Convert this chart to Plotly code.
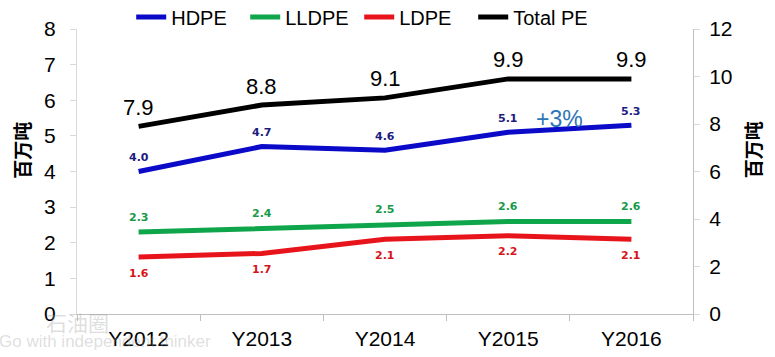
import plotly.graph_objects as go

years = ["Y2012", "Y2013", "Y2014", "Y2015", "Y2016"]
hdpe = [4.0, 4.7, 4.6, 5.1, 5.3]
lldpe = [2.3, 2.4, 2.5, 2.6, 2.6]
ldpe = [1.6, 1.7, 2.1, 2.2, 2.1]
total_pe = [7.9, 8.8, 9.1, 9.9, 9.9]
left_ticks = [0, 1, 2, 3, 4, 5, 6, 7, 8]
right_ticks = [0, 2, 4, 6, 8, 10, 12]

FONT = "Liberation Sans, Arial, sans-serif"
LBL = "DejaVu Sans, Verdana, sans-serif"

fig = go.Figure()
series = [
    ("HDPE", hdpe, "#0A0AC8", "y"),
    ("LLDPE", lldpe, "#0FA64B", "y"),
    ("LDPE", ldpe, "#E8141B", "y"),
    ("Total PE", total_pe, "#000000", "y2"),
]
for name, vals, col, ax in series:
    fig.add_trace(go.Scatter(x=years, y=vals, name=name, mode="lines", yaxis=ax,
                             line=dict(color=col, width=5)))

# data labels
label_specs = [
    (hdpe, "y", 14, "#1C1C80", LBL, 11, "bold"),
    (lldpe, "y", 15, "#17994A", LBL, 11, "bold"),
    (ldpe, "y", -16, "#D7141A", LBL, 11, "bold"),
    (total_pe, "y2", 19, "#000000", FONT, 22, "normal"),
]
for vals, yref, shift, col, fam, size, weight in label_specs:
    for xv, v in zip(years, vals):
        fig.add_annotation(x=xv, y=v, xref="x", yref=yref, text=f"{v:.1f}",
                           showarrow=False, yshift=shift, xanchor="center", yanchor="middle",
                           font=dict(family=fam, size=size, color=col, weight=weight))

fig.add_annotation(x=0.784, y=0.684, xref="paper", yref="paper", text="+3%",
                   showarrow=False, xanchor="center", yanchor="middle",
                   font=dict(family=FONT, size=23, color="#2E75B6"))
fig.add_annotation(x=-0.09, y=0.575, xref="paper", yref="paper", text="百万吨",
                   textangle=-90, showarrow=False, xanchor="center", yanchor="middle",
                   font=dict(family="Noto Sans CJK SC", size=19, color="#000000", weight="bold"))
fig.add_annotation(x=1.096, y=0.575, xref="paper", yref="paper", text="百万吨",
                   textangle=-90, showarrow=False, xanchor="center", yanchor="middle",
                   font=dict(family="Noto Sans CJK SC", size=19, color="#000000", weight="bold"))
# watermark
fig.add_annotation(x=0.0, y=-0.028, xref="paper", yref="paper", text="石油圈",
                   showarrow=False, xanchor="center", yanchor="middle",
                   font=dict(family="Noto Sans CJK SC", size=21, color="rgba(160,160,160,0.35)"))
fig.add_annotation(x=0.045, y=-0.098, xref="paper", yref="paper", text="Go with independent thinker",
                   showarrow=False, xanchor="center", yanchor="middle",
                   font=dict(family=FONT, size=17, color="rgba(160,160,160,0.35)"))

fig.update_layout(
    width=775, height=357,
    margin=dict(l=77, r=82, t=29, b=43, autoexpand=False),
    paper_bgcolor="white", plot_bgcolor="white",
    showlegend=True,
    legend=dict(orientation="h", x=0.088, y=1.042, xanchor="left", yanchor="middle",
                font=dict(family=FONT, size=20, color="#000000"),
                entrywidth=69, entrywidthmode="pixels", itemwidth=30,
                bgcolor="rgba(0,0,0,0)"),
    xaxis=dict(type="category", range=[-0.5, 4.5], showgrid=False,
               showline=True, linecolor="#BFBFBF", linewidth=1,
               ticks="outside", tickson="boundaries", ticklen=6, tickcolor="#BFBFBF",
               ticklabelstandoff=6,
               tickfont=dict(family=FONT, size=21, color="#000000")),
    yaxis=dict(range=[0, 8], tickvals=left_ticks, showgrid=False, zeroline=False,
               showline=True, linecolor="#D9D9D9", linewidth=1,
               ticks="outside", ticklen=6, tickcolor="#D9D9D9",
               ticklabelstandoff=10,
               tickfont=dict(family=FONT, size=21, color="#000000")),
    yaxis2=dict(range=[0, 12], tickvals=right_ticks, overlaying="y", side="right",
                showgrid=False, zeroline=False,
                showline=True, linecolor="#BFBFBF", linewidth=1,
                ticks="outside", ticklen=6, tickcolor="#D9D9D9",
                ticklabelstandoff=5,
                tickfont=dict(family=FONT, size=21, color="#000000")),
)

fig.write_html("out.html", config={"displayModeBar": False},
               post_script="document.body.style.margin='0';")
